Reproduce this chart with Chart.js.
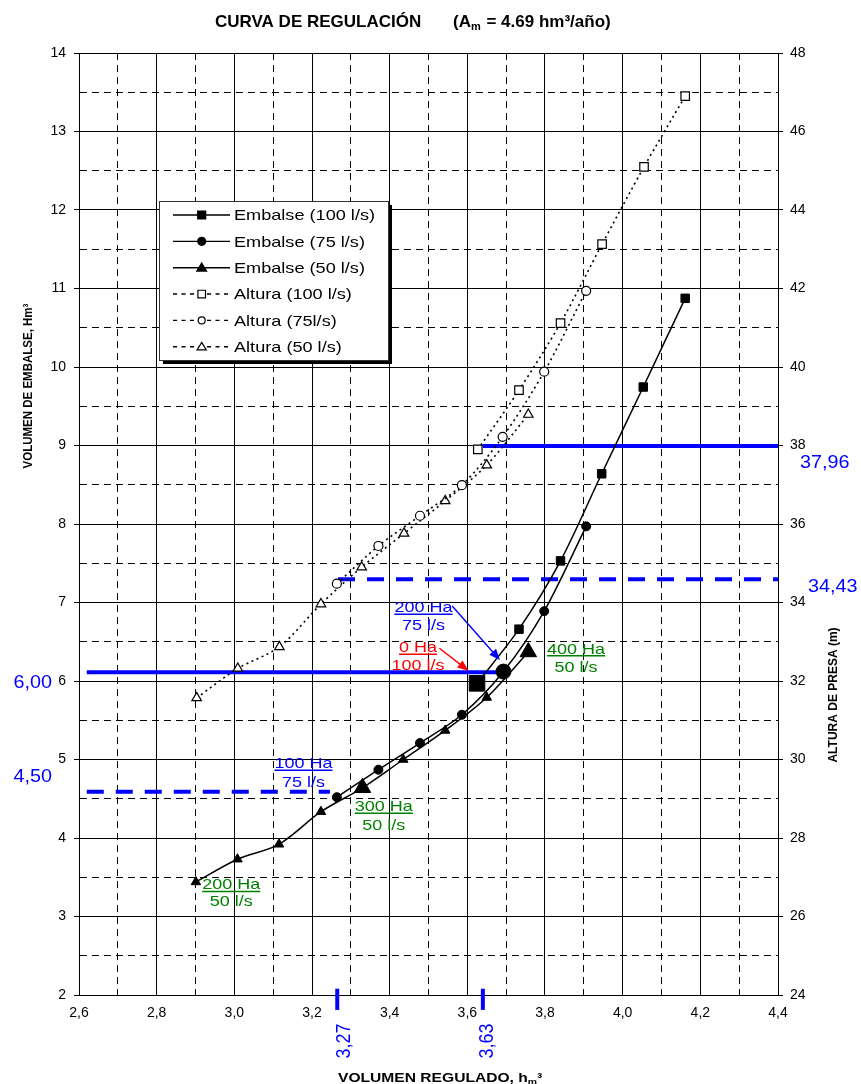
<!DOCTYPE html>
<html>
<head>
<meta charset="utf-8">
<script src="https://cdn.jsdelivr.net/npm/chart.js@4.4.0/dist/chart.umd.min.js"></script>
<style>
html,body{margin:0;padding:0;background:#fff;}
#wrap{width:861px;height:1084px;position:relative;}
</style>
</head>
<body>
<div id="wrap"><canvas id="c"></canvas></div>
<script>
// ---------- DATA ----------
const emb100X = [3.625, 3.733, 3.840, 3.946, 4.053, 4.161];
const emb100Y = [5.97, 6.66, 7.53, 8.64, 9.745, 10.875];
const emb75X  = [3.264, 3.371, 3.478, 3.586, 3.693, 3.798, 3.906];
const emb75Y  = [4.52, 4.87, 5.21, 5.57, 6.12, 6.89, 7.97];
const emb50X  = [2.901, 3.008, 3.115, 3.223, 3.330, 3.435, 3.543, 3.650, 3.757];
const emb50Y  = [3.44, 3.73, 3.92, 4.335, 4.64, 5.00, 5.37, 5.79, 6.37];
const alt100X = [3.627, 3.733, 3.840, 3.947, 4.055, 4.161];
const alt100Y = [37.90, 39.41, 41.12, 43.13, 45.10, 46.90];
const alt75X  = [3.264, 3.371, 3.478, 3.586, 3.691, 3.798, 3.906];
const alt75Y  = [34.48, 35.44, 36.21, 36.99, 38.22, 39.88, 41.94];
const alt50X  = [2.903, 3.009, 3.116, 3.223, 3.328, 3.437, 3.543, 3.650, 3.757];
const alt50Y  = [31.57, 32.32, 32.87, 33.96, 34.90, 35.76, 36.59, 37.50, 38.79];

// highlighted (large) markers, by point index
const emb100Big = [0];
const emb75Big  = [4];
const emb50Big  = [4, 8];

// reference lines (blue)
const ref600X  = [2.62, 3.69];  const ref600Y  = [6.11, 6.11];   // left axis
const ref450X  = [2.62, 3.246]; const ref450Y  = [4.59, 4.59];   // left axis
const ref3796X = [3.64, 4.40];  const ref3796Y = [37.99, 37.99]; // right axis
const ref3443X = [3.267, 4.40]; const ref3443Y = [34.59, 34.59]; // right axis
const mark327X = [3.265, 3.265]; const mark327Y = [1.81, 2.08];
const mark363X = [3.64, 3.64];   const mark363Y = [1.81, 2.08];

// axis ranges / ticks
const xMin = 2.6, xMax = 4.4, xStep = 0.1;
const yMin = 2, yMax = 14, yStep = 0.5;
const y2Min = 24, y2Max = 48, y2Step = 2;

// annotation texts (positions in data units)
const notes = [
  {l1:'200 Ha', l2:'75 l/s',  color:'#0000FF', x:3.487, y1:6.947, y2:6.713},
  {l1:'0 Ha',   l2:'100 l/s', color:'#FF0000', x:3.473, y1:6.437, y2:6.204},
  {l1:'400 Ha', l2:'50 l/s',  color:'#008000', x:3.880, y1:6.417, y2:6.182},
  {l1:'100 Ha', l2:'75 l/s',  color:'#0000FF', x:3.178, y1:4.959, y2:4.717},
  {l1:'300 Ha', l2:'50 l/s',  color:'#008000', x:3.385, y1:4.411, y2:4.166},
  {l1:'200 Ha', l2:'50 l/s',  color:'#008000', x:2.992, y1:3.414, y2:3.200}
];
const arrows = [
  {color:'#0000FF', x1:3.561, y1:6.955, x2:3.684, y2:6.267},
  {color:'#FF0000', x1:3.528, y1:6.417, x2:3.603, y2:6.131}
];
const valueLabels = [
  {t:'6,00',  y:5.99, px:52,  align:'right'},
  {t:'4,50',  y:4.80, px:52,  align:'right'},
  {t:'37,96', y:8.79, px:800, align:'left'},
  {t:'34,43', y:7.21, px:808, align:'left'}
];
const rotLabels = [
  {t:'3,27', x:3.283},
  {t:'3,63', x:3.651}
];

// ---------- HELPERS ----------
const FONT = '"Liberation Sans", Arial, Helvetica, sans-serif';
const xy = (xs, ys) => xs.map((x, i) => ({x: x, y: ys[i]}));
const isInt = v => Math.abs(v - Math.round(v)) < 1e-6;
const isEvenTenth = v => Math.round(v * 10) % 2 === 0;

function drawText(ctx, s, x, cy, size, o) {
  o = o || {};
  ctx.save();
  ctx.translate(x, cy + 0.358 * size);
  ctx.scale(o.sx || 1, 1);
  ctx.font = (o.bold ? 'bold ' : '') + size + 'px ' + FONT;
  ctx.textAlign = o.align || 'left';
  ctx.textBaseline = 'alphabetic';
  ctx.fillStyle = o.color || '#000';
  ctx.fillText(s, 0, 0);
  const w = ctx.measureText(s).width * (o.sx || 1);
  ctx.restore();
  return w;
}
function drawRotText(ctx, s, cx, cy, size, o) {
  o = o || {};
  ctx.save();
  ctx.translate(cx, cy);
  ctx.rotate(-Math.PI / 2);
  ctx.scale(1, o.sy || 1);
  ctx.font = (o.bold ? 'bold ' : '') + size + 'px ' + FONT;
  ctx.textAlign = 'center';
  ctx.textBaseline = 'middle';
  ctx.fillStyle = o.color || '#000';
  ctx.fillText(s, 0, 0);
  ctx.restore();
}
function marker(ctx, style, x, y, r, filled) {
  ctx.save();
  ctx.lineWidth = 1.2;
  ctx.strokeStyle = '#000';
  ctx.fillStyle = filled ? '#000' : '#fff';
  ctx.beginPath();
  if (style === 'rect') {
    ctx.rect(x - r, y - r, 2 * r, 2 * r);
  } else if (style === 'circle') {
    ctx.arc(x, y, r, 0, Math.PI * 2);
  } else {
    ctx.moveTo(x, y - r * 1.05);
    ctx.lineTo(x + r * 1.1, y + r * 0.75);
    ctx.lineTo(x - r * 1.1, y + r * 0.75);
    ctx.closePath();
  }
  ctx.fill();
  ctx.stroke();
  ctx.restore();
}

const legendRows = [
  {label:'Embalse (100 l/s)', style:'rect',     filled:true,  dash:false, r:4},
  {label:'Embalse (75 l/s)',  style:'circle',   filled:true,  dash:false, r:4},
  {label:'Embalse (50 l/s)',  style:'triangle', filled:true,  dash:false, r:4.5},
  {label:'Altura (100 l/s)',  style:'rect',     filled:false, dash:true,  r:3.8},
  {label:'Altura (75l/s)',    style:'circle',   filled:false, dash:true,  r:3.5},
  {label:'Altura (50 l/s)',   style:'triangle', filled:false, dash:true,  r:4.2}
];

const decoPlugin = {
  id: 'deco',
  afterDatasetsDraw(chart) {
    const ctx = chart.ctx;
    const sx = chart.scales.x, sy = chart.scales.y;
    notes.forEach(n => {
      const px = sx.getPixelForValue(n.x);
      const p1 = sy.getPixelForValue(n.y1), p2 = sy.getPixelForValue(n.y2);
      const w = drawText(ctx, n.l1, px, p1, 15, {color:n.color, align:'center', sx:1.2});
      ctx.save();
      ctx.strokeStyle = n.color; ctx.lineWidth = 1.5;
      ctx.beginPath();
      ctx.moveTo(px - w / 2, p1 + 7.5); ctx.lineTo(px + w / 2, p1 + 7.5);
      ctx.stroke(); ctx.restore();
      drawText(ctx, n.l2, px, p2, 15, {color:n.color, align:'center', sx:1.2});
    });
    arrows.forEach(a => {
      const x1 = sx.getPixelForValue(a.x1), y1 = sy.getPixelForValue(a.y1);
      const x2 = sx.getPixelForValue(a.x2), y2 = sy.getPixelForValue(a.y2);
      const ang = Math.atan2(y2 - y1, x2 - x1);
      const L = 11, W = 4.5;
      ctx.save();
      ctx.strokeStyle = a.color; ctx.fillStyle = a.color; ctx.lineWidth = 1.4;
      ctx.beginPath();
      ctx.moveTo(x1, y1);
      ctx.lineTo(x2 - Math.cos(ang) * L * 0.8, y2 - Math.sin(ang) * L * 0.8);
      ctx.stroke();
      ctx.beginPath();
      ctx.moveTo(x2, y2);
      ctx.lineTo(x2 - Math.cos(ang) * L - Math.sin(ang) * W, y2 - Math.sin(ang) * L + Math.cos(ang) * W);
      ctx.lineTo(x2 - Math.cos(ang) * L + Math.sin(ang) * W, y2 - Math.sin(ang) * L - Math.cos(ang) * W);
      ctx.closePath(); ctx.fill();
      ctx.restore();
    });
  },
  afterDraw(chart) {
    const ctx = chart.ctx;
    const sx = chart.scales.x, sy = chart.scales.y;
    // title
    let tx = 215;
    drawText(ctx, 'CURVA DE REGULACIÓN', tx, 21, 17, {bold:true});
    tx = 453;
    tx += drawText(ctx, '(A', tx, 21, 17, {bold:true});
    tx += drawText(ctx, 'm', tx, 26, 11, {bold:true}) + 1;
    drawText(ctx, ' = 4.69 hm³/año)', tx, 21, 17, {bold:true});
    // x axis title
    let ax = 338;
    ax += drawText(ctx, 'VOLUMEN REGULADO, h', ax, 1078, 12, {bold:true, sx:1.3});
    ax += drawText(ctx, 'm', ax, 1081, 8, {bold:true, sx:1.3});
    drawText(ctx, '³', ax, 1078, 12, {bold:true, sx:1.3});
    // y axis titles
    drawRotText(ctx, 'VOLUMEN DE EMBALSE, Hm³', 29, 386, 11.5, {bold:true, sy:1.05});
    drawRotText(ctx, 'ALTURA DE PRESA (m)', 834, 695, 12, {bold:true, sy:1.0});
    // value labels
    valueLabels.forEach(v => {
      drawText(ctx, v.t, v.px, sy.getPixelForValue(v.y), 18, {color:'#0000FF', align:v.align, sx:1.1});
    });
    rotLabels.forEach(v => {
      drawRotText(ctx, v.t, sx.getPixelForValue(v.x), 1041, 18, {color:'#0000FF', sy:1.15});
    });
    // legend
    const bx = 159, by = 201, bw = 229, bh = 159;
    ctx.save();
    ctx.fillStyle = '#000';
    ctx.fillRect(bx + 4, by + 4, bw, bh);
    ctx.fillStyle = '#fff';
    ctx.fillRect(bx, by, bw, bh);
    ctx.strokeStyle = '#333'; ctx.lineWidth = 1;
    ctx.strokeRect(bx + 0.5, by + 0.5, bw, bh);
    ctx.restore();
    legendRows.forEach((r, i) => {
      const ry = 215 + i * 26.35;
      ctx.save();
      ctx.strokeStyle = '#000'; ctx.lineWidth = 1.4;
      ctx.setLineDash(r.dash ? [4, 4.5] : []);
      ctx.beginPath(); ctx.moveTo(173, ry); ctx.lineTo(230, ry); ctx.stroke();
      ctx.restore();
      marker(ctx, r.style, 201.7, ry, r.r, r.filled);
      drawText(ctx, r.label, 234, ry, 14.5, {sx:1.25});
    });
  }
};

const solid = (label, xs, ys, style, big, rSmall, rBig) => ({
  label: label, data: xy(xs, ys), yAxisID: 'y',
  borderColor: '#000', borderWidth: 1.5, tension: 0.3, fill: false,
  pointStyle: style,
  pointRadius: c => big.includes(c.dataIndex) ? rBig : rSmall,
  pointBackgroundColor: '#000', pointBorderColor: '#000', pointBorderWidth: 1
});
const dotted = (label, xs, ys, style, r) => ({
  label: label, data: xy(xs, ys), yAxisID: 'y2',
  borderColor: '#000', borderWidth: 1.6, borderDash: [2, 3.5], tension: 0.3, fill: false,
  pointStyle: style, pointRadius: r,
  pointBackgroundColor: '#fff', pointBorderColor: '#000', pointBorderWidth: 1.2
});
const refLine = (label, xs, ys, axis, dash) => ({
  label: label, data: xy(xs, ys), yAxisID: axis,
  borderColor: '#0000FF', borderWidth: 4, borderDash: dash, tension: 0,
  pointRadius: 0, fill: false, clip: false
});

new Chart(document.getElementById('c'), {
  type: 'line',
  data: {
    datasets: [
      solid('Embalse (100 l/s)', emb100X, emb100Y, 'rect', emb100Big, 6, 11),
      solid('Embalse (75 l/s)', emb75X, emb75Y, 'circle', emb75Big, 4.5, 7.5),
      solid('Embalse (50 l/s)', emb50X, emb50Y, 'triangle', emb50Big, 5.5, 9.5),
      dotted('Altura (100 l/s)', alt100X, alt100Y, 'rect', 6),
      dotted('Altura (75l/s)', alt75X, alt75Y, 'circle', 4.5),
      dotted('Altura (50 l/s)', alt50X, alt50Y, 'triangle', 5.5),
      refLine('6,00', ref600X, ref600Y, 'y', []),
      refLine('4,50', ref450X, ref450Y, 'y', [17, 12]),
      refLine('37,96', ref3796X, ref3796Y, 'y2', []),
      refLine('34,43', ref3443X, ref3443Y, 'y2', [17, 12]),
      refLine('3,27', mark327X, mark327Y, 'y', []),
      refLine('3,63', mark363X, mark363Y, 'y', [])
    ]
  },
  options: {
    responsive: true,
    maintainAspectRatio: false,
    animation: false,
    events: [],
    layout: {padding: {top: 53, left: 0, right: 0, bottom: 0}},
    plugins: {legend: {display: false}, title: {display: false}, tooltip: {enabled: false}},
    scales: {
      x: {
        type: 'linear', min: xMin, max: xMax,
        afterFit: s => { s.height = 89; },
        ticks: {
          stepSize: xStep, autoSkip: false, maxRotation: 0, minRotation: 0, padding: 5,
          color: '#000', font: {family: FONT, size: 14},
          callback: v => isEvenTenth(v) ? (Math.round(v * 10) / 10).toFixed(1).replace('.', ',') : ''
        },
        grid: {color: '#000', lineWidth: 1, tickLength: 5, tickColor: 'rgba(0,0,0,0)'},
        border: {display: true, color: '#000', width: 1,
          dash: c => (c.tick && !isEvenTenth(c.tick.value)) ? [7, 5] : []}
      },
      y: {
        type: 'linear', position: 'left', min: yMin, max: yMax,
        afterFit: s => { s.width = 79; },
        ticks: {
          stepSize: yStep, autoSkip: false, padding: 8,
          color: '#000', font: {family: FONT, size: 14},
          callback: v => isInt(v) ? String(Math.round(v)) : ''
        },
        grid: {color: '#000', lineWidth: 1, tickLength: 5,
          tickColor: c => (c.tick && isInt(c.tick.value)) ? '#000' : 'rgba(0,0,0,0)'},
        border: {display: true, color: '#000', width: 1,
          dash: c => (c.tick && !isInt(c.tick.value)) ? [7, 5] : []}
      },
      y2: {
        type: 'linear', position: 'right', min: y2Min, max: y2Max,
        afterFit: s => { s.width = 83; },
        ticks: {stepSize: y2Step, autoSkip: false, padding: 7, color: '#000', font: {family: FONT, size: 14}},
        grid: {drawOnChartArea: false, color: '#000', tickLength: 5, tickColor: '#000'},
        border: {display: true, color: '#000', width: 1}
      }
    }
  },
  plugins: [decoPlugin]
});
</script>
</body>
</html>
